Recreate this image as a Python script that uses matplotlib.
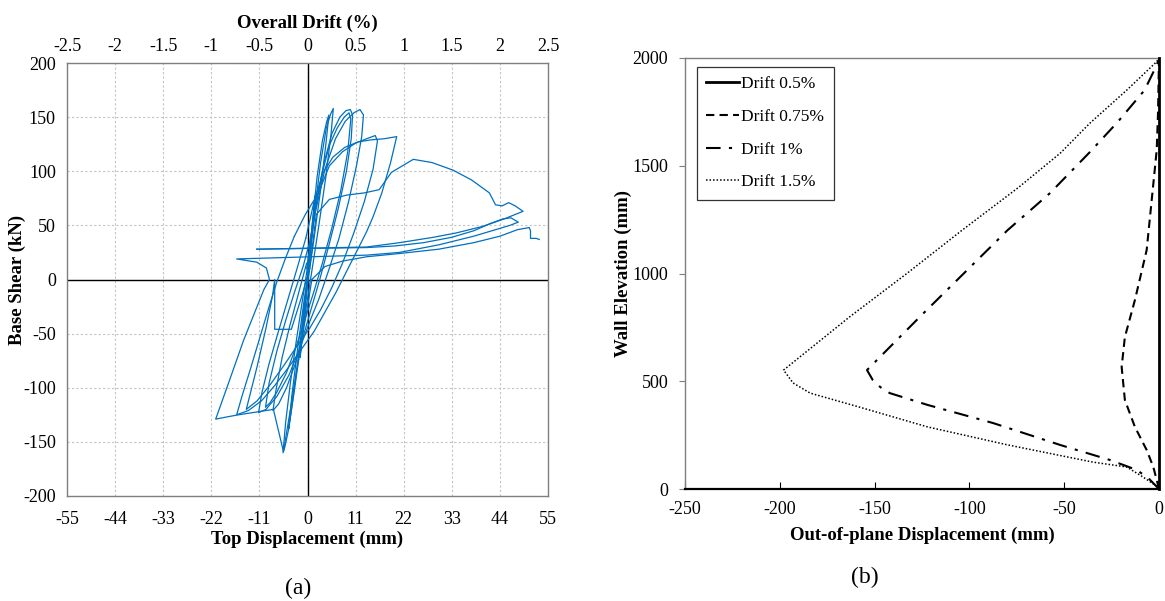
import numpy as np
import matplotlib
matplotlib.use("Agg")
import matplotlib.pyplot as plt
from matplotlib.ticker import FuncFormatter

plt.rcParams["font.family"] = ["Liberation Serif", "DejaVu Serif"]
plt.rcParams["axes.unicode_minus"] = False

# ---------------- (a) hysteresis: top displacement (mm) vs base shear (kN)
disp_c1 = [0.0, 0.6, 1.2, 1.8, 1.3, 0.6, 0.0, -0.6, -1.2, -1.7, -1.1, -0.4, 0.0]
shear_c1 = [0, 28, 55, 78, 52, 22, -5, -30, -55, -72, -45, -15, 0]

disp_c2 = [0.0, 1.0, 2.2, 3.4, 4.4, 4.9, 4.2, 2.9, 1.4, 0.2, -1.0, -2.3, -3.5, -4.3,
           -3.6, -2.2, -0.8, 0.3]
shear_c2 = [0, 48, 95, 128, 146, 152, 125, 80, 35, 2, -35, -78, -115, -138,
            -108, -62, -20, 12]

disp_c3 = [0.3, 1.6, 3.0, 4.3, 5.3, 5.9, 5.4, 4.2, 2.6, 1.0, -0.4, -1.8, -3.2, -4.4,
           -5.2, -5.6, -5.0, -3.9, -2.5, -1.0, 0.4]
shear_c3 = [12, 62, 108, 140, 153, 158, 135, 95, 50, 8, -28, -68, -108, -140,
            -155, -160, -132, -95, -55, -15, 22]

disp_c4 = [0.4, 2.0, 3.8, 5.6, 7.4, 8.8, 9.8, 10.3, 10.0, 8.9, 7.0, 4.8, 2.8, 1.0,
           -0.8, -2.8, -4.8, -6.6, -7.9, -7.2, -5.8, -4.0, -2.0, -0.2]
shear_c4 = [22, 70, 108, 135, 150, 156, 157, 152, 130, 100, 65, 30, 0, -25,
            -50, -78, -100, -115, -121, -102, -72, -42, -12, 15]

disp_c4b = [-0.2, 1.5, 3.2, 5.0, 6.8, 8.4, 9.5, 9.9, 9.2, 7.6, 5.6, 3.4, 1.4, -0.5,
            -2.6, -4.8, -7.0, -8.6, -9.6, -8.8, -7.0, -5.0, -3.0, -1.0, 0.5]
shear_c4b = [10, 58, 96, 124, 140, 150, 154, 148, 118, 82, 48, 15, -12, -36,
             -62, -86, -104, -114, -118, -96, -66, -38, -12, 12, 35]

disp_c5 = [0.5, 1.8, 4.0, 6.4, 8.6, 10.6, 12.0, 12.8, 12.4, 11.2, 9.4, 7.2, 4.8, 2.6,
           0.6, -1.6, -4.2, -7.0, -9.5, -11.2, -10.4, -8.8, -6.8, -4.6, -2.4, -0.4]
shear_c5 = [35, 62, 102, 130, 146, 154, 157, 152, 132, 105, 72, 38, 8, -18,
            -38, -62, -88, -108, -120, -123, -104, -78, -50, -20, 10, 38]

disp_c6 = [-0.4, 1.5, 3.5, 5.8, 8.5, 11.5, 14.5, 17.5, 20.4, 19.0, 17.0, 15.0, 13.5,
           11.5, 9.0, 6.5, 4.0, 1.5, -1.5, -4.5, -7.5, -10.5, -13.5, -16.2, -15.0,
           -13.0, -11.0, -9.0, -7.0, -5.0, -3.0]
shear_c6 = [38, 72, 98, 113, 122, 127, 129, 130, 132, 108, 80, 58, 44,
            28, 8, -12, -30, -48, -65, -82, -98, -112, -121, -125, -108,
            -82, -55, -28, -2, 20, 40]

disp_c6b = [-3.0, -0.5, 2.5, 5.0, 8.0, 11.0, 13.5, 15.5, 16.0, 15.0, 13.0, 10.5, 8.0,
            5.5, 3.0, 0.5, -2.5, -5.5, -8.5, -11.5, -14.0, -13.0, -11.5, -9.5, -8.0,
            -7.5, -7.5, -3.7, -1.5, 0.5]
shear_c6b = [40, 60, 80, 105, 118, 126, 130, 133, 128, 102, 72, 42, 15,
             -8, -28, -45, -62, -80, -97, -112, -120, -104, -80, -45, -15,
             0, -46, -46, -18, 10]

disp_c7 = [0.5, 2.0, 5.0, 9.0, 13.0, 16.4, 19.2, 24.2, 28.5, 33.3, 37.5, 41.6,
           43.0, 44.5, 46.0, 47.5, 49.3, 45.0, 40.0, 34.0, 28.8, 21.0, 13.5, -11.6]
shear_c7 = [10, 60, 74, 78, 80, 83, 99, 111, 108, 101, 92, 80,
            69, 68, 71, 68, 63, 56, 49, 43, 39, 34, 30, 28]

disp_c8 = [-11.6, 13.5, 20.0, 26.5, 33.0, 38.0, 42.0, 44.7, 46.5, 48.2, 46.3, 38.0,
           30.0, 21.0, 13.5, -16.2, -11.6, -9.4, -8.7, -10.0, -14.6, -18.0, -21.0,
           -18.5, -15.8, -11.0, -7.8, -5.5, -3.5, -1.5, 0.0, 1.0]
shear_c8 = [28, 29.5, 31, 34, 39, 45, 52, 56, 57, 53, 50, 40,
            32, 25, 22.5, 19, 16, 10.6, 0, -9.5, -56, -95, -129,
            -127, -125, -122, -120, -159, -110, -60, -25, 0]

disp_c9 = [1.0, 4.0, 8.0, 13.5, 21.0, 30.0, 38.0, 44.0, 48.0, 50.7, 51.0, 51.0,
           52.3, 53.0]
shear_c9 = [0, 12, 17, 21, 24, 28, 34, 40, 46, 48, 45, 38, 38, 37]

disp_cycles = [disp_c1, disp_c2, disp_c3, disp_c4, disp_c4b, disp_c5, disp_c6,
               disp_c6b, disp_c7, disp_c8, disp_c9]
shear_cycles = [shear_c1, shear_c2, shear_c3, shear_c4, shear_c4b, shear_c5, shear_c6,
                shear_c6b, shear_c7, shear_c8, shear_c9]

disp_ticks = [-55, -44, -33, -22, -11, 0, 11, 22, 33, 44, 55]
shear_ticks = [-200, -150, -100, -50, 0, 50, 100, 150, 200]
drift_ticks = [-2.5, -2, -1.5, -1, -0.5, 0, 0.5, 1, 1.5, 2, 2.5]
mm_per_percent = 22.0

# ---------------- (b) out-of-plane profiles: displacement (mm) vs elevation (mm)
elev_05 = [0, 2000]
oop_05 = [0, 0]

elev_075 = [0, 42, 102, 181, 288, 413, 566, 705, 877, 1109, 1573, 1750, 2000]
oop_075 = [0, -1.2, -3.0, -6.5, -12.7, -18.0, -19.7, -18.0, -12.7, -6.5, -1.2, -0.5, 0]

elev_1 = [0, 45, 88, 135, 204, 306, 390, 445, 473, 506, 552, 800, 1000, 1200, 1373,
          1564, 1703, 1851, 1967, 2000]
oop_1 = [0, -5, -11.6, -26, -52, -87.5, -122, -142, -147, -151, -154, -126, -103,
         -80, -57.5, -36.4, -21.8, -7.6, -1.2, 0]

elev_15 = [0, 9, 56, 102, 125, 205, 288, 380, 445, 492, 552, 800, 1000, 1200, 1400,
           1559, 1698, 1851, 1983, 2000]
oop_15 = [0, -0.5, -8.5, -17, -35, -80, -122, -158, -184, -193, -198, -163, -133,
          -104, -74, -52, -36.4, -17, -1.2, 0]

oop_ticks = [-250, -200, -150, -100, -50, 0]
elev_ticks = [0, 500, 1000, 1500, 2000]

W, H = 1165, 601
fig = plt.figure(figsize=(W / 100, H / 100), dpi=100)

blue = "#0070C0"
tick_fs = 13
lab_fs = 13.5

# ---- panel (a)
ax = fig.add_axes([67 / W, 1 - 496 / H, 481 / W, 433 / H])
for d, s in zip(disp_cycles, shear_cycles):
    ax.plot(d, s, color=blue, lw=0.9, solid_joinstyle="round")
ax.set_xlim(-55, 55)
ax.set_ylim(-200, 200)
ax.set_xticks(disp_ticks)
ax.set_yticks(shear_ticks)
ax.grid(True, color="#c4c4c4", linestyle=(0, (2, 2)), lw=0.8)
ax.set_axisbelow(True)
ax.axhline(0, color="black", lw=1.0, zorder=1)
ax.axvline(0, color="black", lw=1.0, zorder=1)
ax.tick_params(axis="y", length=0, labelsize=tick_fs, pad=8)
ax.tick_params(axis="x", length=0, labelsize=tick_fs, pad=11)
for sp in ax.spines.values():
    sp.set_color("#7f7f7f")
    sp.set_linewidth(1.0)
ax.set_xlabel("Top Displacement (mm)", fontsize=lab_fs, fontweight="bold")
ax.xaxis.set_label_coords(0.5, -0.079)
ax.set_ylabel("Base Shear (kN)", fontsize=lab_fs, fontweight="bold")
ax.yaxis.set_label_coords(-0.085, 0.5)

top = ax.secondary_xaxis("top", functions=(lambda x: x / mm_per_percent,
                                          lambda p: p * mm_per_percent))
top.set_xticks(drift_ticks)
top.xaxis.set_major_formatter(FuncFormatter(lambda v, p: "%g" % v))
top.tick_params(length=0, labelsize=tick_fs, pad=6)
top.spines["top"].set_visible(False)
top.set_xlabel("Overall Drift (%)", fontsize=lab_fs, fontweight="bold", labelpad=7)

fig.text(298 / W, 1 - 588 / H, "(a)", fontsize=17, ha="center", va="center")

# ---- panel (b)
bx = fig.add_axes([685 / W, 1 - 489 / H, 474 / W, 431 / H])
bx.plot(oop_15, elev_15, color="black", lw=1.1, linestyle=(0, (1, 1.3)), label="Drift 1.5%")
bx.plot(oop_1, elev_1, color="black", lw=1.5, linestyle=(0, (7, 4, 1.5, 4)), label="Drift 1%")
bx.plot(oop_075, elev_075, color="black", lw=1.5, linestyle=(0, (4, 2.5)), label="Drift 0.75%")
bx.plot(oop_05, elev_05, color="black", lw=2.0, label="Drift 0.5%", clip_on=False, zorder=5)
bx.set_xlim(-250, 0)
bx.set_ylim(0, 2000)
bx.set_xticks(oop_ticks)
bx.set_yticks(elev_ticks)
bx.tick_params(axis="x", direction="in", length=5, labelsize=tick_fs, pad=9)
bx.tick_params(axis="y", direction="out", length=4, labelsize=tick_fs, pad=8, color="#7f7f7f")
bx.spines["right"].set_visible(False)
for k in ("left", "top"):
    bx.spines[k].set_color("#7f7f7f")
    bx.spines[k].set_linewidth(1.0)
bx.spines["bottom"].set_color("black")
bx.spines["bottom"].set_linewidth(1.6)
bx.set_xlabel("Out-of-plane Displacement (mm)", fontsize=lab_fs, fontweight="bold")
bx.xaxis.set_label_coords(0.5, -0.088)
bx.set_ylabel("Wall Elevation (mm)", fontsize=lab_fs, fontweight="bold")
bx.yaxis.set_label_coords(-0.112, 0.5)

h, l = bx.get_legend_handles_labels()
leg = bx.legend(h[::-1], l[::-1], loc="upper left", bbox_to_anchor=(0.025, 0.98),
                fontsize=12.5, frameon=True, fancybox=False, handlelength=1.9,
                handletextpad=0.1, labelspacing=0.95, borderpad=0.55, borderaxespad=0.0)
leg.get_frame().set_edgecolor("black")
leg.get_frame().set_linewidth(0.9)

fig.text(865 / W, 1 - 577 / H, "(b)", fontsize=17, ha="center", va="center")

fig.savefig("out.png", dpi=100, facecolor="white")
